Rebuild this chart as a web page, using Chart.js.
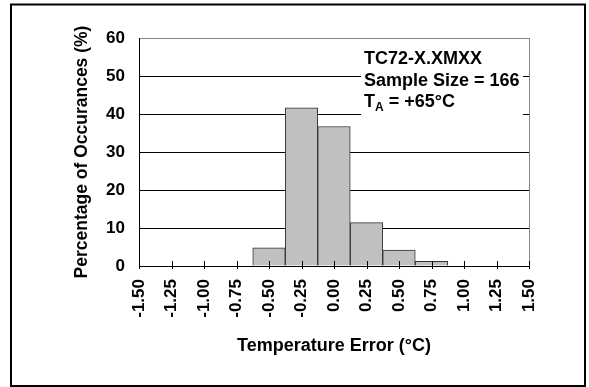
<!DOCTYPE html>
<html>
<head>
<meta charset="utf-8">
<script src="https://cdn.jsdelivr.net/npm/chart.js@4/dist/chart.umd.min.js"></script>
<style>
  html, body { margin: 0; padding: 0; background: #fff; }
  #wrap { width: 589px; height: 387px; }
</style>
</head>
<body>
<div id="wrap"><canvas id="myChart" width="589" height="387"></canvas></div>
<script>
// temperature error bins (°C) and % of 166 parts in each
const binCenters = [-0.50, -0.25, 0.00, 0.25, 0.50, 0.75];
const percentages = [4.8, 41.6, 36.7, 11.4, 4.2, 1.2];
const xTickValues = [-1.5, -1.25, -1.0, -0.75, -0.5, -0.25, 0, 0.25, 0.5, 0.75, 1.0, 1.25, 1.5];
const yTickValues = [0, 10, 20, 30, 40, 50, 60];
const noteLines = ['TC72-X.XMXX', 'Sample Size = 166'];

Chart.defaults.font.family = '"Liberation Sans", Arial, sans-serif';
Chart.defaults.font.weight = 'bold';
Chart.defaults.font.size = 17;
Chart.defaults.color = '#000';

const NOTE_FONT = 'bold 18px "Liberation Sans", Arial, sans-serif';

const extras = {
  id: 'extras',
  afterDatasetsDraw(chart) {
    const c = chart.ctx;
    const x = chart.scales.x;
    const a = chart.chartArea;
    // tick marks crossing the x axis
    c.save();
    c.strokeStyle = '#000';
    c.lineWidth = 1;
    xTickValues.forEach(v => {
      const px = Math.round(x.getPixelForValue(v)) + 0.5;
      c.beginPath();
      c.moveTo(px, a.bottom - 5);
      c.lineTo(px, a.bottom + 3);
      c.stroke();
    });
    // note box
    c.fillStyle = '#fff';
    c.fillRect(361, 46, 162, 70);
    c.fillStyle = '#000';
    c.font = NOTE_FONT;
    c.textBaseline = 'alphabetic';
    c.fillText(noteLines[0], 364, 64);
    c.fillText(noteLines[1], 364, 86);
    c.fillText('T', 364, 107);
    const tw = c.measureText('T').width;
    c.font = 'bold 12px "Liberation Sans", Arial, sans-serif';
    c.fillText('A', 364 + tw, 111);
    const aw = c.measureText('A').width;
    c.font = NOTE_FONT;
    c.fillText(' = +65°C', 364 + tw + aw, 107);
    c.restore();
  },
  afterDraw(chart) {
    const c = chart.ctx;
    c.save();
    c.strokeStyle = '#000';
    c.lineWidth = 2;
    c.strokeRect(11, 4.5, 574, 381.5);
    c.restore();
  }
};

const ctx = document.getElementById('myChart');

new Chart(ctx, {
  type: 'bar',
  data: {
    datasets: [{
      data: binCenters.map((v, i) => ({ x: v, y: percentages[i] })),
      backgroundColor: '#c0c0c0',
      borderColor: '#333',
      borderWidth: 1,
      barPercentage: 1,
      categoryPercentage: 1
    }]
  },
  options: {
    responsive: false,
    animation: false,
    layout: { padding: { left: 68, right: 60, top: 38, bottom: 26 } },
    plugins: { legend: { display: false }, tooltip: { enabled: false } },
    scales: {
      x: {
        type: 'linear',
        offset: false,
        min: -1.5,
        max: 1.5,
        afterBuildTicks: s => { s.ticks = xTickValues.map(v => ({ value: v })); },
        afterFit: s => { s.height = 95; },
        grid: {
          display: true,
          offset: false,
          drawOnChartArea: true,
          drawTicks: false,
          color: ctx => ctx.index === xTickValues.length - 1 ? '#888' : 'rgba(0,0,0,0)'
        },
        border: { display: true, color: '#000', width: 1 },
        ticks: {
          minRotation: 90,
          maxRotation: 90,
          padding: 13,
          font: { size: 17, weight: 'bold' },
          callback: v => v.toFixed(2)
        },
        title: {
          display: true,
          text: 'Temperature Error (°C)',
          font: { size: 18, weight: 'bold' }
        }
      },
      y: {
        min: 0,
        max: 60,
        afterBuildTicks: s => { s.ticks = yTickValues.map(v => ({ value: v })); },
        afterFit: s => { s.width = 71; },
        grid: {
          drawTicks: false,
          color: ctx => ctx.tick.value === 60 ? '#888' : '#000'
        },
        border: { display: true, color: '#000', width: 1 },
        ticks: { padding: 14, font: { size: 17, weight: 'bold' } },
        title: {
          display: true,
          text: 'Percentage of Occurances (%)',
          font: { size: 17.5, weight: 'bold' }
        }
      }
    }
  },
  plugins: [extras]
});
</script>
</body>
</html>
